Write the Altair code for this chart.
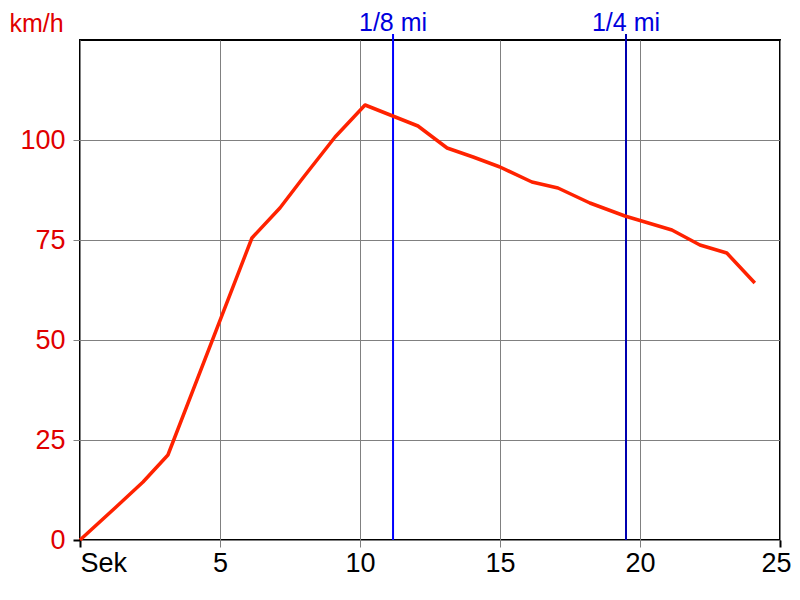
import altair as alt
import pandas as pd

# speed curve (seconds, km/h)
t_sec = [0, 1.25, 2.25, 3.14, 6.14, 7.14, 7.96, 9.11, 10.18, 12.07, 13.11, 14.04,
         15.0, 16.14, 17.07, 18.21, 19.46, 20.18, 21.14, 22.14, 23.1, 24.1]
speed = [0, 8, 14.5, 21.25, 75.5, 83, 90.5, 100.75, 108.75, 103.5, 98, 95.75,
         93.25, 89.5, 88, 84.25, 81, 79.5, 77.5, 73.75, 71.75, 64.25]

# distance markers
marker_t = [11.18, 19.5]
marker_label = ["1/8 mi", "1/4 mi"]
marker_color = ["#0000ff", "#0000b0"]

x_ticks = [0, 5, 10, 15, 20, 25]
y_ticks = [0, 25, 50, 75, 100]

df = pd.DataFrame({"t": t_sec, "v": speed})
mk = pd.DataFrame({"t": marker_t, "label": marker_label, "color": marker_color})

FONT = "Liberation Sans"
RED = "#e00000"

xscale = alt.Scale(domain=[0, 25], nice=False, zero=False)
yscale = alt.Scale(domain=[0, 125], nice=False)

xaxis = alt.Axis(
    values=x_ticks, title=None, grid=True, gridColor="#808080", gridWidth=1,
    gridOpacity=1, domain=False,
    ticks=True, tickSize=7,
    tickWidth={"condition": {"test": "datum.value == 0 || datum.value == 25", "value": 2}, "value": 1},
    tickColor={"condition": {"test": "datum.value == 0 || datum.value == 25", "value": "black"}, "value": "#808080"},
    labelExpr="datum.value == 0 ? 'Sek' : datum.label",
    labelAlign={"condition": {"test": "datum.value == 0", "value": "left"}, "value": "center"},
    labelOffset={"condition": {"test": "datum.value == 25", "value": -4}, "value": 0},
    labelFont=FONT, labelFontSize=27, labelColor="black", labelPadding=3,
    labelBaseline="top", labelFlush=False, labelOverlap=False,
)
yaxis = alt.Axis(
    values=y_ticks, grid=True, gridColor="#808080", gridWidth=1, gridOpacity=1,
    domain=False, ticks=True, tickSize=7,
    tickWidth={"condition": {"test": "datum.value == 0", "value": 2}, "value": 1},
    tickColor={"condition": {"test": "datum.value == 0", "value": "black"}, "value": "#808080"},
    labelFont=FONT, labelFontSize=27, labelColor=RED, labelPadding=8,
    labelFlush=False, labelOverlap=False,
    title="km/h", titleAngle=0, titleX=-44, titleY=-9, titleAlign="center",
    titleBaseline="alphabetic", titleFont=FONT, titleFontSize=25,
    titleFontWeight="normal", titleColor=RED,
)

line = alt.Chart(df).mark_line(color="#ff2200", strokeWidth=3.5, strokeJoin="round").encode(
    x=alt.X("t:Q", scale=xscale, axis=xaxis),
    y=alt.Y("v:Q", scale=yscale, axis=yaxis),
)

rules = alt.Chart(mk).mark_rule(strokeWidth=2).encode(
    x=alt.X("t:Q", scale=xscale),
    y=alt.value(-6),
    y2=alt.value(500),
    color=alt.Color("color:N", scale=None),
)

labels = alt.Chart(mk).mark_text(
    font=FONT, fontSize=25, color="#0000dd", align="center", baseline="alphabetic"
).encode(
    x=alt.X("t:Q", scale=xscale),
    y=alt.value(-9),
    text="label:N",
)

chart = alt.layer(rules, line, labels).properties(
    width=700, height=500,
    autosize=alt.AutoSizeParams(type="none"),
    padding={"left": 72, "top": 32, "right": 12, "bottom": 44},
    background="white",
).configure_view(stroke="black", strokeWidth=2)

chart.save("out.html", embed_options={"renderer": "svg", "actions": False})
